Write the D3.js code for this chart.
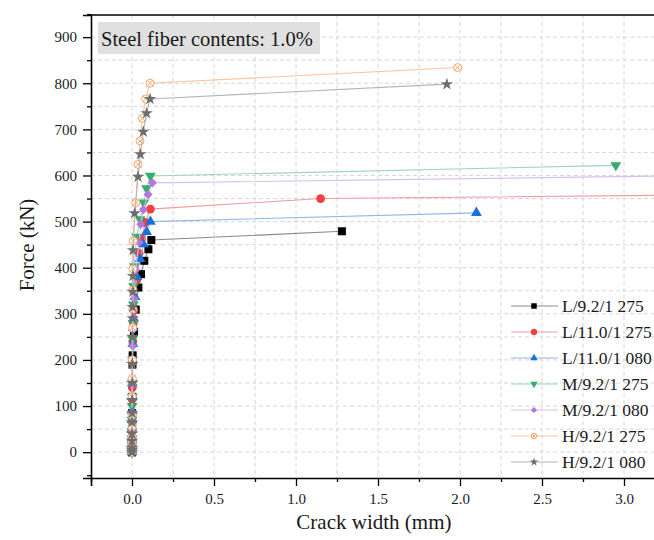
<!DOCTYPE html>
<html>
<head>
<meta charset="utf-8">
<script src="https://cdn.jsdelivr.net/npm/d3@7"></script>
<style>
  body { margin: 0; background: #fff; }
  svg text { font-family: "Liberation Serif", "DejaVu Serif", serif !important; fill: #1a1a1a; }
</style>
</head>
<body>
<svg id="chart" width="654" height="540"></svg>
<script>
// series names
const seriesNames = ["L/9.2/1 275", "L/11.0/1 275", "L/11.0/1 080", "M/9.2/1 275", "M/9.2/1 080", "H/9.2/1 275", "H/9.2/1 080"];

// crack width (mm) and force (kN)
const widthL92_275 = [0, 0, 0, 0, 0, 0.001, 0.001, 0.002, 0.003, 0.004, 0.012, 0.023, 0.039, 0.055, 0.075, 0.1, 0.118, 1.28];
const forceL92_275 = [0, 5, 15, 30, 45, 65, 85, 120, 190, 210, 261, 309, 357, 386, 415, 440, 460, 479];

const widthL110_275 = [0, 0, 0, 0, 0, 0, 0.001, 0.001, 0.002, 0.003, 0.005, 0.008, 0.012, 0.028, 0.043, 0.059, 0.081, 0.112, 1.15, 3.5];
const forceL110_275 = [0, 5, 15, 30, 45, 65, 85, 115, 140, 195, 240, 280, 308, 373, 431, 463, 498, 527, 550, 558];

const widthL110_080 = [0, 0, 0, 0, 0, 0, 0.001, 0.001, 0.002, 0.003, 0.005, 0.008, 0.01, 0.018, 0.03, 0.049, 0.069, 0.089, 0.112, 2.1];
const forceL110_080 = [0, 5, 15, 30, 50, 70, 90, 120, 150, 200, 235, 270, 290, 337, 380, 419, 451, 478, 500, 519];

const widthM92_275 = [0, 0, 0, 0, 0, 0, 0.001, 0.001, 0.002, 0.003, 0.004, 0.006, 0.008, 0.01, 0.014, 0.028, 0.049, 0.072, 0.089, 0.112, 2.95];
const forceM92_275 = [0, 5, 15, 30, 45, 70, 100, 120, 150, 200, 245, 280, 320, 360, 403, 467, 505, 541, 572, 599, 622];

const widthM92_080 = [0, 0, 0, 0, 0, 0, 0.001, 0.001, 0.002, 0.003, 0.004, 0.006, 0.009, 0.013, 0.022, 0.043, 0.053, 0.069, 0.098, 0.124, 3.5];
const forceM92_080 = [0, 5, 15, 30, 45, 65, 85, 120, 145, 200, 230, 265, 293, 333, 395, 455, 494, 526, 559, 584, 600];

const widthH92_275 = [0, 0, 0, 0, 0, 0, 0.001, 0.001, 0.002, 0.002, 0.003, 0.004, 0.005, 0.006, 0.008, 0.023, 0.037, 0.049, 0.063, 0.083, 0.11, 1.986];
const forceH92_275 = [0, 5, 10, 20, 35, 55, 80, 120, 160, 200, 270, 310, 351, 397, 458, 541, 624, 675, 724, 766, 800, 834];

const widthH92_080 = [0, 0, 0, 0, 0, 0, 0.001, 0.001, 0.002, 0.002, 0.003, 0.004, 0.004, 0.005, 0.006, 0.006, 0.016, 0.037, 0.051, 0.069, 0.089, 0.11, 1.92];
const forceH92_080 = [0, 5, 10, 25, 40, 65, 85, 113, 150, 191, 250, 290, 315, 348, 382, 438, 518, 597, 646, 695, 735, 766, 798];

const xTicks = [0, 0.5, 1.0, 1.5, 2.0, 2.5, 3.0];
const yTicks = [0, 100, 200, 300, 400, 500, 600, 700, 800, 900];

const widths = [widthL92_275, widthL110_275, widthL110_080, widthM92_275, widthM92_080, widthH92_275, widthH92_080];
const forces = [forceL92_275, forceL110_275, forceL110_080, forceM92_275, forceM92_080, forceH92_275, forceH92_080];

const markerColors = ["#000000", "#f14040", "#1a6fdf", "#37ad6b", "#b177de", "#fba66e", "#6e6e6e"];
const lineColors = ["#8a8a8a", "#f59a9a", "#8fb7ee", "#9dd5b5", "#d9bdf0", "#fcc39b", "#b4b4b4"];
const markerKinds = ["square", "circle", "triUp", "triDown", "diamond", "otimes", "star"];

const svg = d3.select("#chart");

const plotLeft = 91, plotTop = 15, plotBottom = 478;
const x = d3.scaleLinear().domain([-0.25, 3.2]).range([plotLeft, plotLeft + 3.45 * 164]);
const y = d3.scaleLinear().domain([-56, 948]).range([plotBottom, plotTop]);
const plotRight = x(3.2);

svg.append("defs").append("clipPath").attr("id", "plotClip")
  .append("rect").attr("x", plotLeft).attr("y", plotTop).attr("width", plotRight - plotLeft).attr("height", plotBottom - plotTop);

// grid
const grid = svg.append("g");
grid.selectAll(".vg").data(d3.range(0, 3.01, 0.25)).enter().append("line")
  .attr("x1", d => x(d)).attr("x2", d => x(d)).attr("y1", plotTop).attr("y2", plotBottom)
  .attr("stroke", "#d6d6d6").attr("stroke-width", 1).attr("stroke-dasharray", "4,3");
grid.selectAll(".hg").data(d3.range(0, 901, 50)).enter().append("line")
  .attr("x1", plotLeft).attr("x2", plotRight).attr("y1", d => y(d)).attr("y2", d => y(d))
  .attr("stroke", "#d6d6d6").attr("stroke-width", 1).attr("stroke-dasharray", "4,3");

// marker drawing
function drawMarker(g, kind, color, s) {
  if (kind === "square") {
    g.append("rect").attr("x", -s / 2).attr("y", -s / 2).attr("width", s).attr("height", s).attr("fill", color);
  } else if (kind === "circle") {
    g.append("circle").attr("r", s / 2 + 0.4).attr("fill", color);
  } else if (kind === "triUp") {
    g.append("path").attr("d", d3.symbol(d3.symbolTriangle, s * s * 0.8)()).attr("fill", color);
  } else if (kind === "triDown") {
    g.append("path").attr("d", d3.symbol(d3.symbolTriangle, s * s * 0.8)()).attr("transform", "rotate(180)").attr("fill", color);
  } else if (kind === "diamond") {
    g.append("rect").attr("x", -s * 0.4).attr("y", -s * 0.4).attr("width", s * 0.8).attr("height", s * 0.8)
      .attr("transform", "rotate(45)").attr("fill", color);
  } else if (kind === "otimes") {
    const r = s / 2;
    g.append("circle").attr("r", r).attr("fill", "#fff").attr("stroke", color).attr("stroke-width", 1);
    const k = r * 0.7;
    g.append("path").attr("d", `M${-k},${-k}L${k},${k}M${-k},${k}L${k},${-k}`).attr("stroke", color).attr("stroke-width", 1);
  } else if (kind === "star") {
    g.append("path").attr("d", d3.symbol(d3.symbolStar, s * s * 0.75)()).attr("fill", color);
  }
}

const plot = svg.append("g").attr("clip-path", "url(#plotClip)");
const line = d3.line().x(d => x(d[0])).y(d => y(d[1]));

seriesNames.forEach((name, i) => {
  const pts = widths[i].map((w, j) => [w, forces[i][j]]);
  plot.append("path").datum(pts).attr("d", line)
    .attr("fill", "none").attr("stroke", lineColors[i]).attr("stroke-width", 1.1);
  plot.selectAll(".m" + i).data(pts).enter().append("g")
    .attr("transform", d => `translate(${x(d[0])},${y(d[1])})`)
    .each(function () { drawMarker(d3.select(this), markerKinds[i], markerColors[i], 8); });
});

// axes
svg.append("g").attr("transform", `translate(0,${plotBottom})`)
  .call(d3.axisBottom(x).tickValues(xTicks).tickFormat(d3.format(".1f")).tickSize(8).tickPadding(7));
svg.append("g").attr("transform", `translate(0,${plotBottom})`)
  .call(d3.axisBottom(x).tickValues(d3.range(-0.25, 3.2, 0.5)).tickFormat("").tickSize(4))
  .select(".domain").remove();
svg.append("g").attr("transform", `translate(${plotLeft},0)`)
  .call(d3.axisLeft(y).tickValues(yTicks).tickSize(8).tickPadding(6));
svg.append("g").attr("transform", `translate(${plotLeft},0)`)
  .call(d3.axisLeft(y).tickValues(d3.range(-50, 951, 100)).tickFormat("").tickSize(4))
  .select(".domain").remove();

svg.selectAll(".domain").attr("stroke", "#000").attr("stroke-width", 1.6);
svg.selectAll(".tick line").attr("stroke", "#000").attr("stroke-width", 1.3);
svg.selectAll(".tick text").attr("font-size", 15).attr("fill", "#222");

// top frame
svg.append("line").attr("x1", plotLeft).attr("x2", plotRight).attr("y1", plotTop).attr("y2", plotTop)
  .attr("stroke", "#000").attr("stroke-width", 1.6);

// axis titles
svg.append("text").attr("x", (plotLeft + plotRight) / 2).attr("y", 529).attr("text-anchor", "middle")
  .attr("font-size", 21).text("Crack width (mm)");
svg.append("text").attr("transform", "translate(34,245) rotate(-90)").attr("text-anchor", "middle")
  .attr("font-size", 21).text("Force (kN)");

// label box
svg.append("rect").attr("x", 98).attr("y", 22).attr("width", 222).attr("height", 32).attr("fill", "#e0e0e0");
svg.append("text").attr("x", 101).attr("y", 46).attr("font-size", 20.5).text("Steel fiber contents: 1.0%");

// legend
const legend = svg.append("g");
seriesNames.forEach((name, i) => {
  const ly = 306 + i * 26;
  legend.append("line").attr("x1", 511).attr("x2", 558).attr("y1", ly).attr("y2", ly)
    .attr("stroke", lineColors[i]).attr("stroke-width", 1.1);
  const g = legend.append("g").attr("transform", `translate(534,${ly})`);
  drawMarker(g, markerKinds[i], markerColors[i], 5.5);
  legend.append("text").attr("x", 562).attr("y", ly + 6).attr("font-size", 17.5).text(name);
});
</script>
</body>
</html>
